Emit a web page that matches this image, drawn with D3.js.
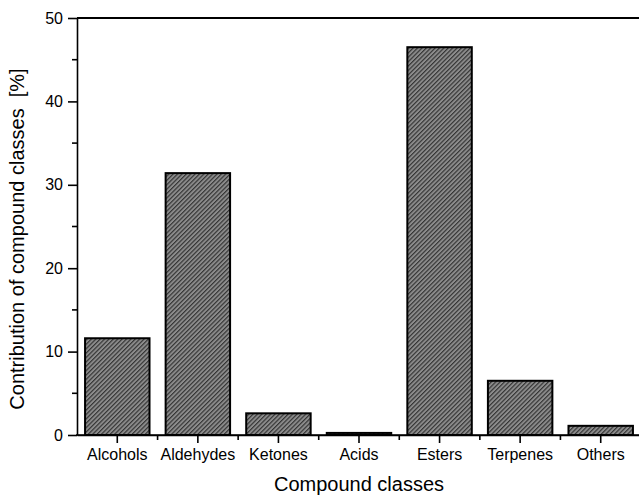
<!DOCTYPE html>
<html>
<head>
<meta charset="utf-8">
<script src="https://cdn.jsdelivr.net/npm/d3@7"></script>
<style>
  body { margin: 0; background: #fff; }
  svg { display: block; font-family: "Liberation Sans", Arial, sans-serif; }
</style>
</head>
<body>
<div class="canvas"></div>
<script>
// data
const categories = ["Alcohols", "Aldehydes", "Ketones", "Acids", "Esters", "Terpenes", "Others"];
const values = [11.6, 31.4, 2.6, 0.25, 46.5, 6.5, 1.1];
const yTicks = [0, 10, 20, 30, 40, 50];
const yMinorTicks = [5, 15, 25, 35, 45];

const dims = { width: 639, height: 496 };
const margin = { left: 77, top: 18, right: -2, bottom: 61 };

const svg = d3.select('.canvas')
  .append('svg')
  .attr('width', dims.width)
  .attr('height', dims.height);

// hatch fill for the bars
const defs = svg.append('defs');
const pat = defs.append('pattern')
  .attr('id', 'hatch')
  .attr('patternUnits', 'userSpaceOnUse')
  .attr('width', 3.1)
  .attr('height', 10)
  .attr('patternTransform', 'rotate(45)');
pat.append('rect').attr('width', 3.1).attr('height', 10).attr('fill', '#8c8c8c');
pat.append('line')
  .attr('x1', 0.6).attr('x2', 0.6).attr('y1', 0).attr('y2', 10)
  .attr('stroke', '#2a2a2a').attr('stroke-width', 1.05);

const x = d3.scaleBand()
  .domain(categories)
  .range([margin.left, dims.width - margin.right])
  .paddingInner(0.2)
  .paddingOuter(0.1);

const y = d3.scaleLinear()
  .domain([0, 50])
  .range([dims.height - margin.bottom, margin.top]);

const graph = svg.append('g');

// bars
graph.selectAll('.bar')
  .data(values)
  .enter().append('rect')
  .attr('class', 'bar')
  .attr('x', (d, i) => x(categories[i]))
  .attr('y', d => y(d))
  .attr('width', x.bandwidth())
  .attr('height', d => y(0) - y(d))
  .attr('fill', 'url(#hatch)')
  .attr('stroke', '#000')
  .attr('stroke-width', 2);

// y axis
const yAxis = graph.append('g')
  .attr('transform', `translate(${margin.left},0)`)
  .call(d3.axisLeft(y).tickValues(yTicks).tickSize(9).tickPadding(5).tickSizeOuter(0));
yAxis.selectAll('text').attr('font-size', 16).attr('fill', '#000').attr('font-family', '"Liberation Sans", Arial, sans-serif');
yAxis.selectAll('line, path').attr('stroke', '#000').attr('stroke-width', 1.6);

graph.append('g')
  .attr('transform', `translate(${margin.left},0)`)
  .selectAll('line')
  .data(yMinorTicks)
  .enter().append('line')
  .attr('x1', -5).attr('x2', 0)
  .attr('y1', d => y(d)).attr('y2', d => y(d))
  .attr('stroke', '#000').attr('stroke-width', 1.6);

// x axis
const xAxis = graph.append('g')
  .attr('transform', `translate(0,${y(0)})`)
  .call(d3.axisBottom(x).tickSize(8).tickPadding(6).tickSizeOuter(0));
xAxis.selectAll('text').attr('font-size', 16).attr('fill', '#000').attr('font-family', '"Liberation Sans", Arial, sans-serif');
xAxis.selectAll('line, path').attr('stroke', '#000').attr('stroke-width', 1.6);

// minor ticks at the category boundaries
graph.append('g')
  .attr('transform', `translate(0,${y(0)})`)
  .selectAll('line')
  .data(categories.slice(1))
  .enter().append('line')
  .attr('x1', d => x(d) - x.step() * x.paddingInner() / 2)
  .attr('x2', d => x(d) - x.step() * x.paddingInner() / 2)
  .attr('y1', 0).attr('y2', 5)
  .attr('stroke', '#000').attr('stroke-width', 1.6);

// baseline
graph.append('line')
  .attr('x1', margin.left - 1).attr('x2', dims.width)
  .attr('y1', y(0)).attr('y2', y(0))
  .attr('stroke', '#000').attr('stroke-width', 1.6);

// top frame
graph.append('line')
  .attr('x1', margin.left).attr('x2', dims.width)
  .attr('y1', y(50)).attr('y2', y(50))
  .attr('stroke', '#000').attr('stroke-width', 1.8);

// axis titles
svg.append('text')
  .attr('x', (margin.left + dims.width + 2) / 2)
  .attr('y', 491)
  .attr('text-anchor', 'middle')
  .attr('font-size', 20)
  .text('Compound classes');

svg.append('text')
  .attr('transform', 'translate(24,239) rotate(-90)')
  .attr('text-anchor', 'middle')
  .attr('font-size', 20)
  .attr('xml:space', 'preserve')
  .style('white-space', 'pre')
  .text('Contribution of compound classes  [%]');
</script>
</body>
</html>
